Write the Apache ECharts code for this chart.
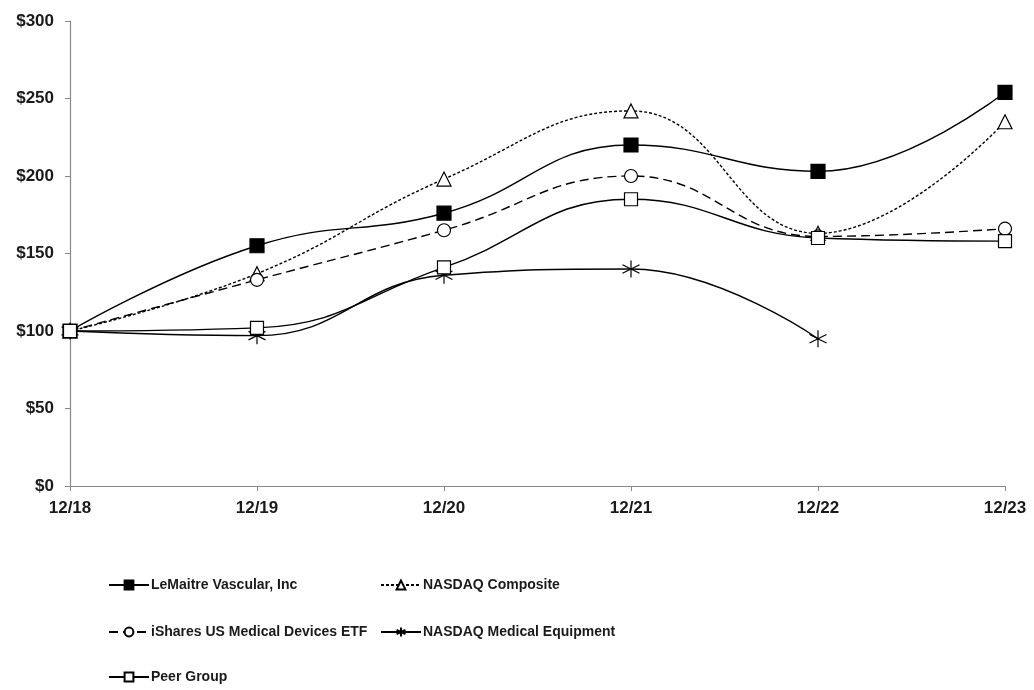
<!DOCTYPE html>
<html><head><meta charset="utf-8">
<script src="https://cdn.jsdelivr.net/npm/echarts@6/dist/echarts.min.js"></script>
<style>html,body{margin:0;padding:0;background:#fff}#c{width:1034px;height:690px}</style>
</head><body><div id="c"></div>
<script>
const categories = ['12/18','12/19','12/20','12/21','12/22','12/23'];
const yTicks = [0,50,100,150,200,250,300];
const lemaitre = [100,155,176,220,203,254];
const nasdaqComposite = [100,137,198,242,163,235];
const ishares = [100,133,165,200,161,166];
const nasdaqMedEquip = [100,97,136,140,95,null];
const peerGroup = [100,102,141,185,160,158];

const FONT = '"Liberation Sans",Arial,sans-serif';
const asterisk = 'path://M5,0L5,10M0.7,2.5L9.3,7.5M0.7,7.5L9.3,2.5';

function mk(name, data, symbol, size, filled, lineType) {
  return {
    name, type: 'line', data, smooth: 0.45, symbol, symbolSize: size,
    showSymbol: true, connectNulls: false,
    lineStyle: {color: '#000', width: 1.4, type: lineType},
    itemStyle: {color: filled ? '#000' : '#fff', borderColor: '#000', borderWidth: 1.2},
    emphasis: {disabled: true}, animation: false
  };
}

const series = [
  mk('LeMaitre Vascular, Inc', lemaitre, 'rect', 14, true, 'solid'),
  mk('NASDAQ Composite', nasdaqComposite, 'triangle', 14, false, [3,2]),
  mk('iShares US Medical Devices ETF', ishares, 'circle', 13, false, [9,5]),
  mk('NASDAQ Medical Equipment', nasdaqMedEquip, asterisk, 17, false, 'solid'),
  mk('Peer Group', peerGroup, 'rect', 13, false, 'solid')
];
series[3].itemStyle = {color: 'none', borderColor: '#000', borderWidth: 1.2};

function lg(name, left, top) {
  return {
    data: [name], left, top, padding: 0, itemWidth: 40, itemHeight: 11, itemGap: 0,
    textStyle: {fontFamily: FONT, fontWeight: 'bold', fontSize: 14, color: '#1a1a1a', padding: [0,0,0,-3]},
    selectedMode: false
  };
}

const chart = echarts.init(document.getElementById('c'));
chart.setOption({
  backgroundColor: '#fff',
  animation: false,
  grid: {left: 70, right: 29, top: 21, bottom: 204},
  legend: [
    lg('LeMaitre Vascular, Inc', 108, 578),
    lg('NASDAQ Composite', 380, 578),
    lg('iShares US Medical Devices ETF', 108, 625),
    lg('NASDAQ Medical Equipment', 380, 625),
    lg('Peer Group', 108, 670)
  ],
  xAxis: {
    type: 'category', data: categories, boundaryGap: false,
    axisLine: {lineStyle: {color: '#888', width: 1.2}},
    axisTick: {show: true, length: 5, lineStyle: {color: '#888'}},
    axisLabel: {fontFamily: FONT, fontWeight: 'bold', fontSize: 17, color: '#1a1a1a', margin: 14},
    splitLine: {show: false}
  },
  yAxis: {
    type: 'value', min: 0, max: 300, interval: 50,
    axisLine: {show: true, lineStyle: {color: '#888', width: 1.2}},
    axisTick: {show: true, length: 5, lineStyle: {color: '#888'}},
    axisLabel: {fontFamily: FONT, fontWeight: 'bold', fontSize: 17, color: '#1a1a1a', margin: 16,
      formatter: v => yTicks.includes(v) ? '$' + v : ''},
    splitLine: {show: false}
  },
  series
});
</script></body></html>
